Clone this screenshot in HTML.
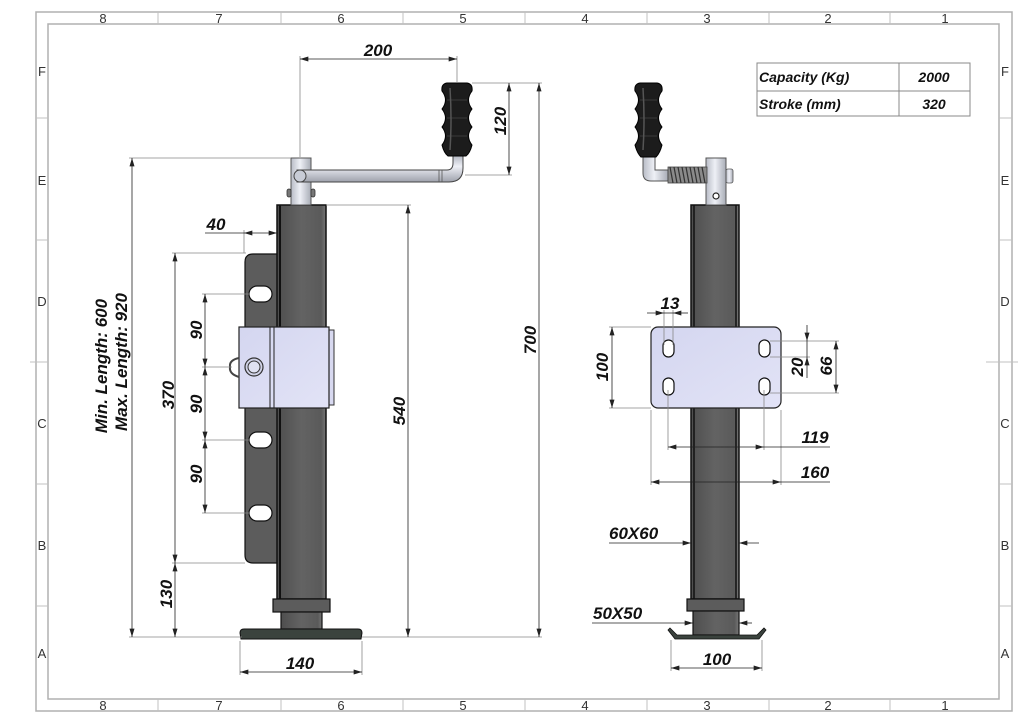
<!DOCTYPE html>
<html><head><meta charset="utf-8"><style>
html,body{margin:0;padding:0;background:#fff;}
svg{display:block;}
.d{font-family:"Liberation Sans",sans-serif;font-weight:bold;font-style:italic;font-size:17px;fill:#111;}
.b{font-family:"Liberation Sans",sans-serif;font-size:13px;fill:#333;}
.t{font-family:"Liberation Sans",sans-serif;font-weight:bold;font-style:italic;font-size:14px;fill:#111;}
</style></head><body>
<svg width="1024" height="724" viewBox="0 0 1024 724" xmlns="http://www.w3.org/2000/svg">
<defs>
<marker id="a" viewBox="0 0 10 6" refX="10" refY="3" markerWidth="9" markerHeight="5" orient="auto-start-reverse" markerUnits="userSpaceOnUse"><path d="M0,0 L10,3 L0,6 Z" fill="#222"/></marker>
<linearGradient id="tube" x1="0" x2="1" y1="0" y2="0"><stop offset="0" stop-color="#4e4e4e"/><stop offset="0.5" stop-color="#636363"/><stop offset="0.9" stop-color="#5a5a5a"/><stop offset="1" stop-color="#777"/></linearGradient>
<linearGradient id="pin" x1="0" x2="1" y1="0" y2="0"><stop offset="0" stop-color="#b8bcc6"/><stop offset="0.45" stop-color="#eef0f6"/><stop offset="1" stop-color="#a8acb6"/></linearGradient>
<linearGradient id="bar" x1="0" x2="0" y1="0" y2="1"><stop offset="0" stop-color="#b4b8c2"/><stop offset="0.4" stop-color="#eef0f6"/><stop offset="1" stop-color="#9ea2ac"/></linearGradient>
<linearGradient id="plate" x1="0" x2="1" y1="0" y2="1"><stop offset="0" stop-color="#d4d6f0"/><stop offset="1" stop-color="#e2e3f6"/></linearGradient>
</defs>

<!-- Border -->
<g fill="none" stroke="#b0b0b0" stroke-width="1.5">
<rect x="36" y="12" width="976" height="699"/>
<rect x="48" y="24" width="951" height="675"/>
</g>
<g stroke="#c0c0c0" stroke-width="1">
<line x1="158" y1="12" x2="158" y2="24"/><line x1="281" y1="12" x2="281" y2="24"/><line x1="403" y1="12" x2="403" y2="24"/><line x1="525" y1="12" x2="525" y2="24"/><line x1="647" y1="12" x2="647" y2="24"/><line x1="769" y1="12" x2="769" y2="24"/><line x1="890" y1="12" x2="890" y2="24"/>
<line x1="158" y1="699" x2="158" y2="711"/><line x1="281" y1="699" x2="281" y2="711"/><line x1="403" y1="699" x2="403" y2="711"/><line x1="525" y1="699" x2="525" y2="711"/><line x1="647" y1="699" x2="647" y2="711"/><line x1="769" y1="699" x2="769" y2="711"/><line x1="890" y1="699" x2="890" y2="711"/>
<line x1="36" y1="118" x2="48" y2="118"/><line x1="36" y1="240" x2="48" y2="240"/><line x1="30" y1="362" x2="48" y2="362"/><line x1="36" y1="484" x2="48" y2="484"/><line x1="36" y1="606" x2="48" y2="606"/>
<line x1="999" y1="118" x2="1012" y2="118"/><line x1="999" y1="240" x2="1012" y2="240"/><line x1="986" y1="362" x2="1018" y2="362"/><line x1="999" y1="484" x2="1012" y2="484"/><line x1="999" y1="606" x2="1012" y2="606"/>
</g>
<g class="b" text-anchor="middle">
<text x="103" y="23">8</text><text x="219" y="23">7</text><text x="341" y="23">6</text><text x="463" y="23">5</text><text x="585" y="23">4</text><text x="707" y="23">3</text><text x="828" y="23">2</text><text x="945" y="23">1</text>
<text x="103" y="710">8</text><text x="219" y="710">7</text><text x="341" y="710">6</text><text x="463" y="710">5</text><text x="585" y="710">4</text><text x="707" y="710">3</text><text x="828" y="710">2</text><text x="945" y="710">1</text>
<text x="42" y="76">F</text><text x="42" y="185">E</text><text x="42" y="306">D</text><text x="42" y="428">C</text><text x="42" y="550">B</text><text x="42" y="658">A</text>
<text x="1005" y="76">F</text><text x="1005" y="185">E</text><text x="1005" y="306">D</text><text x="1005" y="428">C</text><text x="1005" y="550">B</text><text x="1005" y="658">A</text>
</g>

<!-- Table -->
<g fill="none" stroke="#888" stroke-width="1">
<rect x="757" y="63" width="213" height="53"/>
<line x1="757" y1="91" x2="970" y2="91"/>
<line x1="899" y1="63" x2="899" y2="116"/>
</g>
<text class="t" x="759" y="82">Capacity (Kg)</text>
<text class="t" x="934" y="82" text-anchor="middle">2000</text>
<text class="t" x="759" y="109">Stroke (mm)</text>
<text class="t" x="934" y="109" text-anchor="middle">320</text>

<!-- ========== LEFT VIEW ========== -->
<path d="M279 254 H253 Q245 254 245 262 V555 Q245 563 253 563 H279 Z" fill="#5c5c5c" stroke="#111" stroke-width="1.2"/>
<g fill="#fff" stroke="#111" stroke-width="1.2">
<rect x="249" y="286" width="23" height="16" rx="8"/>
<rect x="249" y="432" width="23" height="16" rx="8"/>
<rect x="249" y="505" width="23" height="16" rx="8"/>
</g>
<rect x="277" y="205" width="49" height="394" fill="url(#tube)" stroke="#111" stroke-width="1.5"/>
<line x1="280" y1="205" x2="280" y2="599" stroke="#111" stroke-width="2"/>
<rect x="329" y="330" width="5" height="75" fill="#d8d9f0" stroke="#333" stroke-width="1"/>
<rect x="239" y="327" width="90" height="81" fill="url(#plate)" stroke="#222" stroke-width="1.2"/>
<line x1="270" y1="327" x2="270" y2="408" stroke="#222" stroke-width="1"/>
<line x1="274" y1="327" x2="274" y2="408" stroke="#222" stroke-width="1"/>
<path d="M239 358 Q229 360 230 367 Q229 374 239 377" fill="none" stroke="#444" stroke-width="2"/>
<circle cx="254" cy="367" r="9" fill="#d0d2e6" stroke="#333" stroke-width="1.2"/>
<circle cx="254" cy="367" r="6" fill="#e0e2f2" stroke="#333" stroke-width="1"/>
<rect x="273" y="599" width="57" height="13" fill="#5c5c5c" stroke="#111" stroke-width="1.2"/>
<rect x="281" y="612" width="41" height="17" fill="url(#tube)" stroke="#111" stroke-width="1.2"/>
<path d="M244 629 H358 Q362 629 362 633 L361 639 H241 L240 633 Q240 629 244 629 Z" fill="#3b433e" stroke="#111" stroke-width="1"/>
<rect x="291" y="158" width="20" height="47" fill="url(#pin)" stroke="#555" stroke-width="1"/>
<rect x="287" y="189" width="4" height="8" rx="2" fill="#777" stroke="#333" stroke-width="0.8"/>
<rect x="311" y="189" width="4" height="8" rx="2" fill="#777" stroke="#333" stroke-width="0.8"/>
<path d="M297 170 H447 Q453 170 453 163 V156 H463 V168 Q463 182 449 182 H297 Z" fill="url(#bar)" stroke="#444" stroke-width="1"/>
<line x1="439" y1="170" x2="439" y2="182" stroke="#555" stroke-width="0.8"/>
<line x1="442" y1="170" x2="442" y2="182" stroke="#555" stroke-width="0.8"/>
<circle cx="300" cy="176" r="6" fill="#c8ccd6" stroke="#444" stroke-width="1"/>
<!-- grip -->
<path d="M447 83 H467 Q473 84 472 91 Q465 100 472 109 Q465 118 472 127 Q465 136 472 145 Q470 153 466 156 H448 Q444 153 442 145 Q449 136 442 127 Q449 118 442 109 Q449 100 442 91 Q441 84 447 83 Z" fill="#1c1c1c" stroke="#000" stroke-width="1"/>
<g stroke="#3a3a3a" stroke-width="1"><line x1="447" y1="100" x2="467" y2="100"/><line x1="447" y1="118" x2="467" y2="118"/><line x1="447" y1="136" x2="467" y2="136"/></g>
<path d="M450 88 Q452 120 450 150" stroke="#555" stroke-width="1.5" fill="none"/>

<!-- left dims -->
<g stroke="#888" stroke-width="0.8" fill="none">
<line x1="300" y1="56" x2="300" y2="157"/>
<line x1="457" y1="56" x2="457" y2="82"/>
<line x1="472" y1="83" x2="542" y2="83"/>
<line x1="465" y1="175" x2="512" y2="175"/>
<line x1="129" y1="158" x2="291" y2="158"/>
<line x1="326" y1="205" x2="411" y2="205"/>
<line x1="172" y1="253" x2="246" y2="253"/>
<line x1="244" y1="230" x2="244" y2="253"/>
<line x1="202" y1="294" x2="250" y2="294"/>
<line x1="202" y1="367" x2="232" y2="367"/>
<line x1="202" y1="440" x2="250" y2="440"/>
<line x1="202" y1="513" x2="250" y2="513"/>
<line x1="172" y1="563" x2="245" y2="563"/>
<line x1="129" y1="637" x2="242" y2="637"/>
<line x1="362" y1="637" x2="542" y2="637"/>
<line x1="240" y1="641" x2="240" y2="675"/>
<line x1="362" y1="641" x2="362" y2="675"/>
</g>
<g stroke="#222" stroke-width="0.8" fill="none">
<line x1="300" y1="59" x2="457" y2="59" marker-start="url(#a)" marker-end="url(#a)"/>
<line x1="509" y1="83" x2="509" y2="175" marker-start="url(#a)" marker-end="url(#a)"/>
<line x1="539" y1="83" x2="539" y2="637" marker-start="url(#a)" marker-end="url(#a)"/>
<line x1="408" y1="205" x2="408" y2="637" marker-start="url(#a)" marker-end="url(#a)"/>
<line x1="132" y1="158" x2="132" y2="637" marker-start="url(#a)" marker-end="url(#a)"/>
<line x1="175" y1="253" x2="175" y2="563" marker-start="url(#a)" marker-end="url(#a)"/>
<line x1="175" y1="563" x2="175" y2="637" marker-start="url(#a)" marker-end="url(#a)"/>
<line x1="205" y1="294" x2="205" y2="367" marker-start="url(#a)" marker-end="url(#a)"/>
<line x1="205" y1="367" x2="205" y2="440" marker-start="url(#a)" marker-end="url(#a)"/>
<line x1="205" y1="440" x2="205" y2="513" marker-start="url(#a)" marker-end="url(#a)"/>
<line x1="205" y1="233" x2="244" y2="233"/>
<line x1="244" y1="233" x2="277" y2="233" marker-start="url(#a)" marker-end="url(#a)"/>
<line x1="240" y1="672" x2="362" y2="672" marker-start="url(#a)" marker-end="url(#a)"/>
</g>
<g class="d" text-anchor="middle">
<text x="378" y="56">200</text>
<text x="216" y="230">40</text>
<text x="300" y="669">140</text>
<text transform="translate(506 121) rotate(-90)">120</text>
<text transform="translate(536 340) rotate(-90)">700</text>
<text transform="translate(405 411) rotate(-90)">540</text>
<text transform="translate(174 395) rotate(-90)">370</text>
<text transform="translate(202 330) rotate(-90)">90</text>
<text transform="translate(202 404) rotate(-90)">90</text>
<text transform="translate(202 474) rotate(-90)">90</text>
<text transform="translate(172 594) rotate(-90)">130</text>
<text transform="translate(107 366) rotate(-90)">Min. Length: 600</text>
<text transform="translate(127 362) rotate(-90)">Max. Length: 920</text>
</g>

<!-- ========== RIGHT VIEW ========== -->
<rect x="691" y="205" width="48" height="394" fill="url(#tube)" stroke="#111" stroke-width="1.5"/>
<line x1="694" y1="205" x2="694" y2="599" stroke="#111" stroke-width="1.5"/>
<line x1="736" y1="205" x2="736" y2="599" stroke="#111" stroke-width="1.5"/>
<rect x="651" y="327" width="130" height="81" rx="7" fill="url(#plate)" stroke="#222" stroke-width="1.2"/>
<g fill="#fff" stroke="#111" stroke-width="1.2">
<rect x="663" y="340" width="11" height="17" rx="5.5"/>
<rect x="663" y="378" width="11" height="17" rx="5.5"/>
<rect x="759" y="340" width="11" height="17" rx="5.5"/>
<rect x="759" y="378" width="11" height="17" rx="5.5"/>
</g>
<rect x="687" y="599" width="57" height="12" fill="#5c5c5c" stroke="#111" stroke-width="1.2"/>
<rect x="693" y="611" width="46" height="24" fill="url(#tube)" stroke="#111" stroke-width="1.2"/>
<path d="M670 628 L677 635 H757 L764 628 L766 630 L759 639 H675 L668 630 Z" fill="#3b433e" stroke="#111" stroke-width="0.8"/>
<rect x="726" y="169" width="7" height="14" rx="2" fill="url(#pin)" stroke="#555" stroke-width="0.8"/>
<rect x="706" y="158" width="20" height="47" fill="url(#pin)" stroke="#555" stroke-width="1"/>
<circle cx="716" cy="196" r="3" fill="#fff" stroke="#222" stroke-width="1.2"/>
<path d="M643 157 H655 V170 H668 V181 H651 Q643 181 643 173 Z" fill="url(#pin)" stroke="#555" stroke-width="1"/>
<rect x="668" y="167" width="39" height="16" fill="#8a8a8a" stroke="#444" stroke-width="0.8"/>
<g stroke="#333" stroke-width="1.2">
<line x1="670" y1="167" x2="673" y2="183"/><line x1="674" y1="167" x2="677" y2="183"/><line x1="678" y1="167" x2="681" y2="183"/><line x1="682" y1="167" x2="685" y2="183"/><line x1="686" y1="167" x2="689" y2="183"/><line x1="690" y1="167" x2="693" y2="183"/><line x1="694" y1="167" x2="697" y2="183"/><line x1="698" y1="167" x2="701" y2="183"/><line x1="702" y1="167" x2="705" y2="183"/>
</g>
<path d="M640 83 H657 Q663 84 662 91 Q655 100 662 109 Q655 118 662 127 Q655 136 662 145 Q660 153 656 157 H641 Q637 153 635 145 Q642 136 635 127 Q642 118 635 109 Q642 100 635 91 Q634 84 640 83 Z" fill="#1c1c1c" stroke="#000" stroke-width="1"/>
<g stroke="#3a3a3a" stroke-width="1"><line x1="640" y1="100" x2="657" y2="100"/><line x1="640" y1="118" x2="657" y2="118"/><line x1="640" y1="136" x2="657" y2="136"/></g>
<path d="M643 88 Q645 120 643 150" stroke="#555" stroke-width="1.5" fill="none"/>

<!-- right dims -->
<g stroke="#888" stroke-width="0.8" fill="none">
<line x1="664" y1="310" x2="664" y2="345"/>
<line x1="673" y1="310" x2="673" y2="345"/>
<line x1="609" y1="327" x2="651" y2="327"/>
<line x1="609" y1="408" x2="651" y2="408"/>
<line x1="770" y1="341" x2="839" y2="341"/>
<line x1="770" y1="357" x2="810" y2="357"/>
<line x1="770" y1="393" x2="839" y2="393"/>
<line x1="668" y1="390" x2="668" y2="450"/>
<line x1="764" y1="390" x2="764" y2="450"/>
<line x1="651" y1="410" x2="651" y2="485"/>
<line x1="781" y1="410" x2="781" y2="485"/>
<line x1="671" y1="640" x2="671" y2="671"/>
<line x1="762" y1="640" x2="762" y2="671"/>
</g>
<g stroke="#222" stroke-width="0.8" fill="none">
<line x1="647" y1="313" x2="664" y2="313" marker-end="url(#a)"/>
<line x1="673" y1="313" x2="688" y2="313" marker-start="url(#a)"/>
<line x1="664" y1="313" x2="673" y2="313"/>
<line x1="612" y1="327" x2="612" y2="408" marker-start="url(#a)" marker-end="url(#a)"/>
<line x1="807" y1="325" x2="807" y2="341" marker-end="url(#a)"/>
<line x1="807" y1="357" x2="807" y2="378" marker-start="url(#a)"/>
<line x1="807" y1="341" x2="807" y2="357"/>
<line x1="836" y1="341" x2="836" y2="393" marker-start="url(#a)" marker-end="url(#a)"/>
<line x1="668" y1="447" x2="764" y2="447" marker-start="url(#a)" marker-end="url(#a)"/>
<line x1="764" y1="447" x2="830" y2="447"/>
<line x1="651" y1="482" x2="781" y2="482" marker-start="url(#a)" marker-end="url(#a)"/>
<line x1="781" y1="482" x2="830" y2="482"/>
<line x1="609" y1="543" x2="691" y2="543" marker-end="url(#a)"/>
<line x1="739" y1="543" x2="759" y2="543" marker-start="url(#a)"/>
<line x1="592" y1="623" x2="693" y2="623" marker-end="url(#a)"/>
<line x1="739" y1="623" x2="752" y2="623" marker-start="url(#a)"/>
<line x1="671" y1="668" x2="762" y2="668" marker-start="url(#a)" marker-end="url(#a)"/>
</g>
<g class="d" text-anchor="middle">
<text x="670" y="309">13</text>
<text transform="translate(608 367) rotate(-90)">100</text>
<text transform="translate(803 367) rotate(-90)">20</text>
<text transform="translate(832 366) rotate(-90)">66</text>
<text x="815" y="443">119</text>
<text x="815" y="478">160</text>
<text x="717" y="665">100</text>
</g>
<g class="d">
<text x="609" y="539">60X60</text>
<text x="593" y="619">50X50</text>
</g>
</svg>
</body></html>
